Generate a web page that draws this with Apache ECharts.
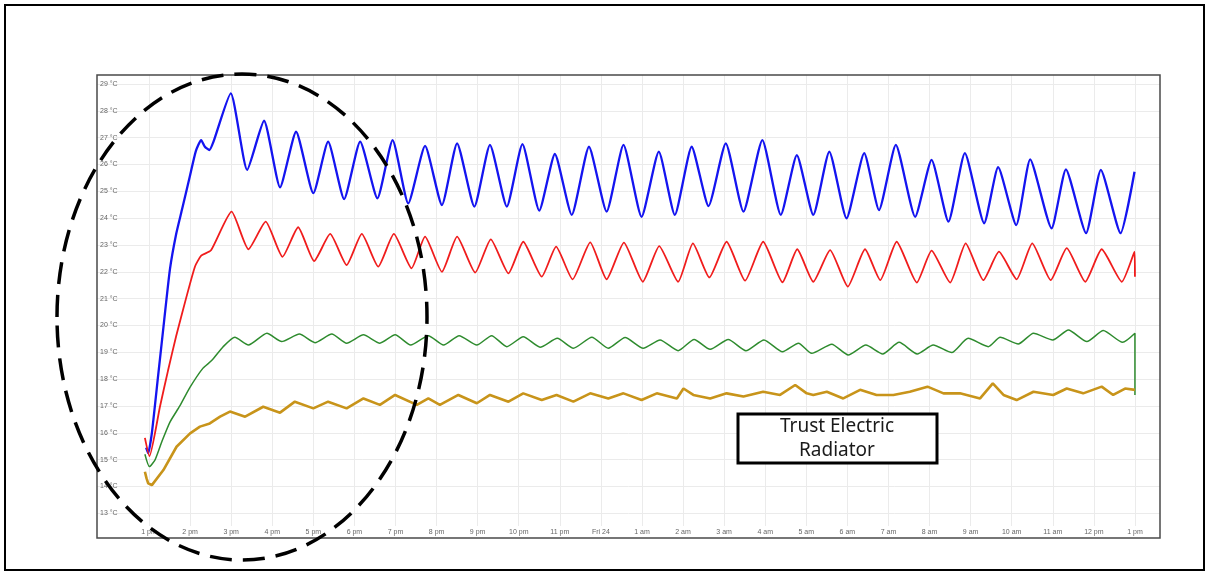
<!DOCTYPE html>
<html>
<head>
<meta charset="utf-8">
<style>
  html, body { margin: 0; padding: 0; background: #fff; }
  #chart { width: 1209px; height: 576px; }
</style>
<script src="https://cdn.jsdelivr.net/npm/echarts@6/dist/echarts.min.js"></script>
</head>
<body>
<div id="chart"></div>
<script>
// hours after 1 pm (Thu) -> label
const hourTicks = [0, 1, 2, 3, 4, 5, 6, 7, 8, 9, 10, 11, 12, 13, 14, 15, 16, 17, 18, 19, 20, 21, 22, 23, 24];
const hourLabels = ['1 pm', '2 pm', '3 pm', '4 pm', '5 pm', '6 pm', '7 pm', '8 pm', '9 pm', '10 pm', '11 pm', 'Fri 24',
  '1 am', '2 am', '3 am', '4 am', '5 am', '6 am', '7 am', '8 am', '9 am', '10 am', '11 am', '12 pm', '1 pm'];
const tempTicks = [13, 14, 15, 16, 17, 18, 19, 20, 21, 22, 23, 24, 25, 26, 27, 28, 29];

// [hours since 1 pm, °C]
const blueData = [
  [-0.07, 15.45], [-0.02, 15.24], [0.07, 16.0], [0.22, 18.1], [0.37, 20.2], [0.51, 22.1], [0.66, 23.4], [0.80, 24.3],
  [1.00, 25.6], [1.14, 26.5], [1.27, 26.91], [1.36, 26.66], [1.47, 26.54], [1.57, 26.85], [1.99, 28.65], [2.39, 25.8],
  [2.80, 27.63], [3.19, 25.15], [3.58, 27.22], [4.00, 24.93], [4.36, 26.85], [4.75, 24.71], [5.14, 26.85], [5.56, 24.74],
  [5.93, 26.91], [6.31, 24.55], [6.72, 26.69], [7.13, 24.49], [7.50, 26.79], [7.92, 24.43], [8.30, 26.73], [8.71, 24.43],
  [9.09, 26.76], [9.50, 24.28], [9.88, 26.39], [10.29, 24.12], [10.71, 26.66], [11.14, 24.24], [11.55, 26.73], [11.99, 24.05],
  [12.41, 26.48], [12.80, 24.12], [13.21, 26.66], [13.62, 24.45], [14.04, 26.79], [14.47, 24.24], [14.93, 26.91], [15.38, 24.12],
  [15.77, 26.35], [16.17, 24.12], [16.56, 26.48], [16.98, 23.99], [17.41, 26.42], [17.77, 24.3], [18.18, 26.73], [18.65, 24.05],
  [19.05, 26.17], [19.46, 23.87], [19.86, 26.42], [20.33, 23.81], [20.67, 25.9], [21.11, 23.74], [21.45, 26.19], [21.97, 23.62],
  [22.32, 25.82], [22.81, 23.44], [23.17, 25.8], [23.65, 23.44], [23.99, 25.73]
];
const redData = [
  [-0.10, 15.81], [0.01, 15.13], [0.27, 17.0], [0.46, 18.3], [0.66, 19.6], [0.90, 21.0], [1.12, 22.2], [1.27, 22.6],
  [1.51, 22.8], [2.01, 24.24], [2.42, 22.84], [2.84, 23.87], [3.25, 22.56], [3.63, 23.66], [4.02, 22.4], [4.41, 23.41],
  [4.81, 22.25], [5.18, 23.41], [5.58, 22.19], [5.96, 23.41], [6.39, 22.13], [6.72, 23.31], [7.13, 22.0], [7.50, 23.31],
  [7.94, 21.97], [8.32, 23.21], [8.75, 21.94], [9.11, 23.12], [9.56, 21.82], [9.91, 22.94], [10.31, 21.72], [10.74, 23.1],
  [11.14, 21.72], [11.56, 23.09], [12.02, 21.63], [12.42, 22.96], [12.88, 21.63], [13.24, 23.06], [13.64, 21.79], [14.06, 23.12],
  [14.51, 21.67], [14.95, 23.12], [15.42, 21.61], [15.78, 22.84], [16.17, 21.63], [16.58, 22.81], [17.01, 21.45], [17.43, 22.84],
  [17.80, 21.69], [18.20, 23.12], [18.69, 21.6], [19.05, 22.79], [19.50, 21.6], [19.88, 23.06], [20.31, 21.69], [20.69, 22.75],
  [21.12, 21.72], [21.50, 23.06], [21.95, 21.69], [22.34, 22.88], [22.79, 21.63], [23.19, 22.84], [23.68, 21.63], [23.99, 22.75],
  [24.0, 21.82]
];
const greenData = [
  [-0.10, 15.2], [0.01, 14.74], [0.15, 15.0], [0.32, 15.7], [0.51, 16.4], [0.75, 17.0], [1.00, 17.7], [1.31, 18.4],
  [1.53, 18.7], [1.80, 19.2], [2.09, 19.56], [2.42, 19.27], [2.87, 19.71], [3.23, 19.4], [3.66, 19.68], [4.04, 19.36],
  [4.45, 19.68], [4.81, 19.34], [5.22, 19.65], [5.62, 19.34], [5.99, 19.65], [6.37, 19.27], [6.80, 19.62], [7.17, 19.27],
  [7.55, 19.62], [7.98, 19.27], [8.34, 19.62], [8.71, 19.21], [9.11, 19.58], [9.52, 19.19], [9.94, 19.52], [10.33, 19.15],
  [10.78, 19.56], [11.18, 19.15], [11.59, 19.55], [12.03, 19.15], [12.44, 19.46], [12.88, 19.06], [13.27, 19.48], [13.66, 19.11],
  [14.10, 19.48], [14.53, 19.06], [14.97, 19.46], [15.42, 19.02], [15.81, 19.34], [16.13, 18.96], [16.62, 19.3], [17.02, 18.9],
  [17.45, 19.27], [17.86, 18.94], [18.26, 19.37], [18.70, 18.94], [19.09, 19.27], [19.54, 18.99], [19.94, 19.52], [20.43, 19.21],
  [20.72, 19.56], [21.16, 19.31], [21.53, 19.71], [22.00, 19.46], [22.38, 19.83], [22.83, 19.4], [23.23, 19.81], [23.70, 19.37],
  [24.00, 19.71], [24.00, 17.41]
];
const goldData = [
  [-0.10, 14.55], [-0.06, 14.3], [-0.02, 14.12], [0.07, 14.05], [0.35, 14.61], [0.67, 15.48], [1.00, 15.98], [1.24, 16.23],
  [1.48, 16.35], [1.73, 16.6], [1.97, 16.79], [2.34, 16.6], [2.78, 16.97], [3.19, 16.75], [3.55, 17.16], [4.00, 16.91],
  [4.36, 17.16], [4.81, 16.91], [5.22, 17.28], [5.62, 17.04], [5.99, 17.41], [6.52, 17.04], [6.80, 17.28], [7.08, 17.04],
  [7.53, 17.41], [7.98, 17.1], [8.30, 17.41], [8.75, 17.16], [9.11, 17.47], [9.56, 17.22], [9.92, 17.41], [10.33, 17.16],
  [10.74, 17.47], [11.18, 17.28], [11.55, 17.47], [11.99, 17.22], [12.36, 17.47], [12.85, 17.28], [13.01, 17.65], [13.25, 17.41],
  [13.66, 17.28], [14.06, 17.47], [14.47, 17.35], [14.95, 17.53], [15.36, 17.41], [15.73, 17.78], [16.01, 17.47], [16.17, 17.41],
  [16.50, 17.53], [16.90, 17.28], [17.31, 17.6], [17.71, 17.41], [18.12, 17.41], [18.52, 17.53], [18.95, 17.72], [19.34, 17.47],
  [19.74, 17.47], [20.23, 17.28], [20.54, 17.84], [20.80, 17.41], [21.12, 17.22], [21.53, 17.53], [22.01, 17.41], [22.34, 17.65],
  [22.74, 17.47], [23.19, 17.72], [23.47, 17.41], [23.76, 17.65], [24.0, 17.6]
];

const chart = echarts.init(document.getElementById('chart'));

const line = (name, data, color, width, smooth) => ({
  name, type: 'line', data, smooth, symbol: 'none', animation: false,
  lineStyle: { color, width }, z: 3
});

chart.setOption({
  backgroundColor: '#fff',
  animation: false,
  grid: { left: 97, top: 75, right: 49, bottom: 50, containLabel: false },
  xAxis: {
    type: 'value',
    min: -1.266,
    max: 24.61,
    axisLine: { show: false },
    axisTick: { show: false, customValues: hourTicks },
    axisLabel: {
      customValues: hourTicks,
      margin: 3,
      fontSize: 7,
      color: '#666',
      fontFamily: 'Liberation Sans',
      formatter: v => hourLabels[Math.round(v)]
    },
    splitLine: { show: true, lineStyle: { color: '#ebebeb', width: 1 } }
  },
  yAxis: {
    type: 'value',
    min: 12.526,
    max: 29.335,
    axisLine: { show: false },
    axisTick: { show: false, customValues: tempTicks },
    axisLabel: {
      customValues: tempTicks,
      inside: true,
      margin: 3,
      fontSize: 7,
      color: '#666',
      fontFamily: 'Liberation Sans',
      formatter: v => v + ' °C'
    },
    splitLine: { show: true, lineStyle: { color: '#ebebeb', width: 1 } }
  },
  series: [
    line('blue', blueData, '#1414f0', 2.3, 0.18),
    line('red', redData, '#f01c1c', 1.8, 0.18),
    line('green', greenData, '#2e8b2e', 1.5, 0.2),
    line('gold', goldData, '#c8941a', 2.6, false)
  ],
  graphic: [
    { type: 'rect', silent: true, z: 50, shape: { x: 5, y: 5, width: 1199, height: 565 },
      style: { fill: null, stroke: '#000', lineWidth: 2 } },
    { type: 'rect', silent: true, z: 50, shape: { x: 97, y: 75, width: 1063, height: 463 },
      style: { fill: null, stroke: '#4a4a4a', lineWidth: 1.5 } },
    { type: 'ellipse', silent: true, z: 60, shape: { cx: 242, cy: 317, rx: 185, ry: 243 },
      style: { fill: null, stroke: '#000', lineWidth: 3.5, lineDash: [22, 11] } },
    { type: 'rect', silent: true, z: 70, shape: { x: 738, y: 414, width: 199, height: 49 },
      style: { fill: '#fff', stroke: '#000', lineWidth: 3 } },
    { type: 'text', silent: true, z: 71, style: { x: 837, y: 427, text: 'Trust Electric', fontSize: 19,
      fontFamily: 'Noto Sans', fill: '#1a1a1a', align: 'center', verticalAlign: 'middle' } },
    { type: 'text', silent: true, z: 71, style: { x: 837, y: 451, text: 'Radiator', fontSize: 19,
      fontFamily: 'Noto Sans', fill: '#1a1a1a', align: 'center', verticalAlign: 'middle' } }
  ]
});
</script>
</body>
</html>
